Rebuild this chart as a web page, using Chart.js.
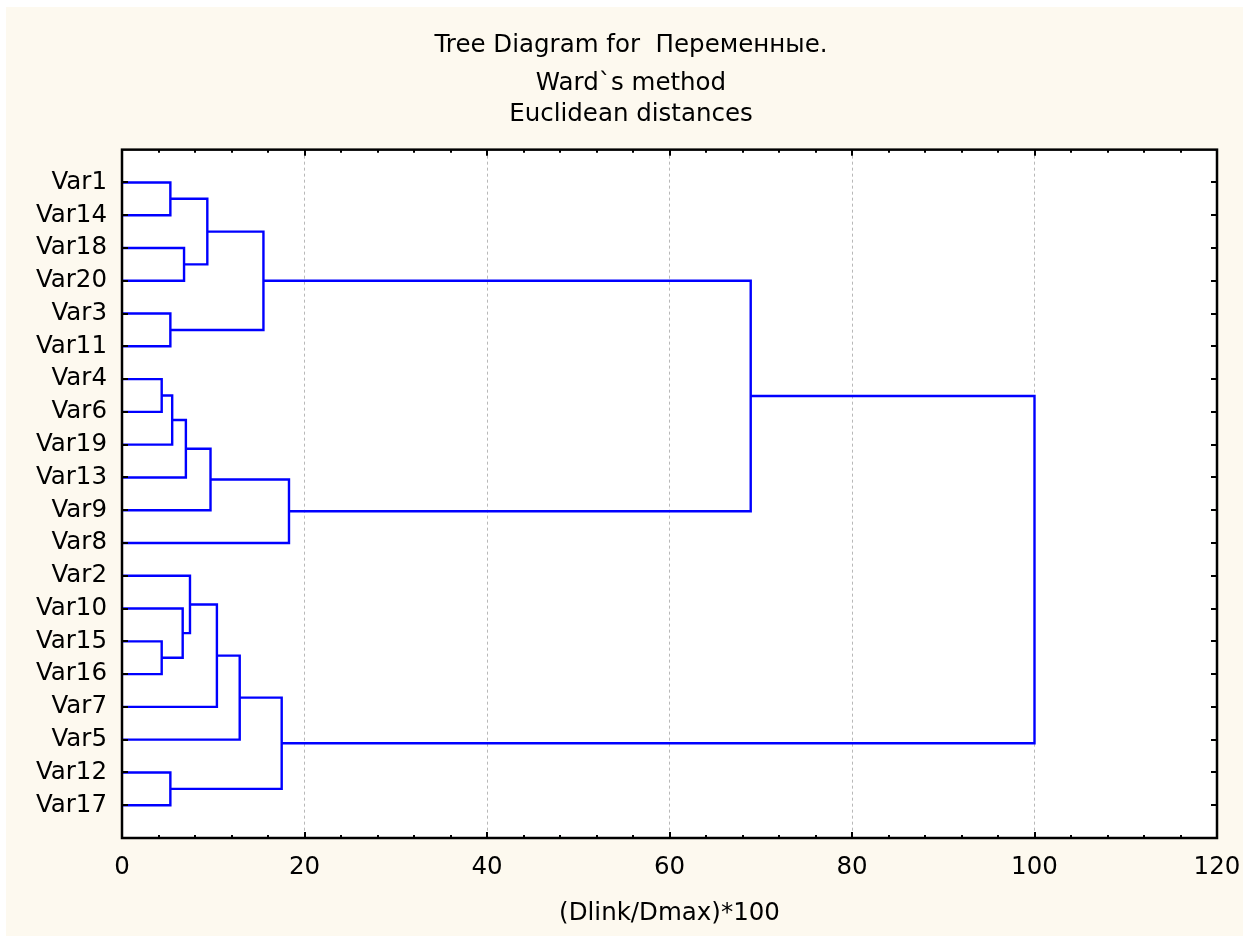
<!DOCTYPE html>
<html>
<head>
<meta charset="utf-8">
<script src="https://cdn.jsdelivr.net/npm/chart.js@4.4.1/dist/chart.umd.min.js"></script>
<style>
  html, body { margin: 0; padding: 0; background: #fff; overflow: hidden; }
  #wrap { position: absolute; left: 6px; top: 7px; width: 1237px; height: 929px; background: #fdf9ef; }
</style>
</head>
<body>
<div id="wrap"><canvas id="chart" width="1237" height="929"></canvas></div>
<script>
// leaves in dendrogram order, top to bottom
const leafLabels = ["Var1", "Var14", "Var18", "Var20", "Var3", "Var11", "Var4", "Var6", "Var19", "Var13",
  "Var9", "Var8", "Var2", "Var10", "Var15", "Var16", "Var7", "Var5", "Var12", "Var17"];

// linkage: node ids 0..19 are leaves, 20+ are merges in this order
const linkLeft   = [6, 14, 0, 4, 18, 20, 13, 2, 25, 12, 22, 28, 29, 32, 30, 33, 31, 34, 37];
const linkRight  = [7, 15, 1, 5, 19, 8, 21, 3, 9, 26, 27, 10, 16, 17, 23, 24, 11, 36, 35];
const linkHeight = [4.35, 4.35, 5.3, 5.3, 5.3, 5.5, 6.65, 6.8, 7.0, 7.45, 9.35, 9.7, 10.4, 12.9, 15.5, 17.5, 18.3, 68.9, 100];

const xTickValues = [0, 20, 40, 60, 80, 100, 120];

// node positions: leaves sit at 1..20, merges at mean of children
const nodeY = leafLabels.map((_, i) => i + 1);
const nodeH = leafLabels.map(() => 0);
const links = linkHeight.map((h, k) => {
  const a = linkLeft[k], b = linkRight[k];
  nodeY.push((nodeY[a] + nodeY[b]) / 2);
  nodeH.push(h);
  return [
    { x: nodeH[a], y: nodeY[a] },
    { x: h, y: nodeY[a] },
    { x: h, y: nodeY[b] },
    { x: nodeH[b], y: nodeY[b] }
  ];
});

// titles in the original sit a bit left of the canvas middle
const TITLE_CENTER = 625;

const frame = {
  id: "frame",
  afterLayout(chart) {
    chart.boxes.forEach(b => {
      if (b.position === "top" && b.options && b.options.text !== undefined) {
        b.left = 2 * TITLE_CENTER - b.right;
      }
    });
  },
  beforeDraw(chart) {
    const { ctx, chartArea: a } = chart;
    ctx.save();
    ctx.fillStyle = "#fff";
    ctx.fillRect(a.left, a.top, a.width, a.height);
    ctx.restore();
  },
  afterDraw(chart) {
    const { ctx, chartArea: a, scales: { x, y } } = chart;
    ctx.save();
    ctx.strokeStyle = "#000";
    ctx.lineWidth = 2.5;
    ctx.strokeRect(a.left, a.top, a.width, a.height);
    ctx.lineWidth = 2;
    ctx.beginPath();
    leafLabels.forEach((_, i) => {
      const py = Math.round(y.getPixelForValue(i + 1));
      ctx.moveTo(a.left, py); ctx.lineTo(a.left + 6, py);
      ctx.moveTo(a.right, py); ctx.lineTo(a.right - 6, py);
    });
    for (let v = 0; v <= 120; v += 4) {
      const px = Math.round(x.getPixelForValue(v));
      const len = v % 20 === 0 ? 6 : 3;
      ctx.moveTo(px, a.top); ctx.lineTo(px, a.top + len);
      ctx.moveTo(px, a.bottom); ctx.lineTo(px, a.bottom - len);
    }
    ctx.stroke();
    ctx.restore();
  }
};

const font = { family: "'DejaVu Sans', sans-serif", size: 24.5 };

new Chart(document.getElementById("chart"), {
  type: "scatter",
  data: {
    datasets: links.map(pts => ({
      data: pts,
      showLine: true,
      borderColor: "#0000ff",
      borderWidth: 2.4,
      pointRadius: 0,
      tension: 0,
      clip: false
    }))
  },
  options: {
    responsive: false,
    animation: false,
    events: [],
    layout: { padding: { top: 0, right: 26, bottom: 0, left: 0 } },
    plugins: {
      legend: { display: false },
      tooltip: { enabled: false },
      title: {
        display: true,
        text: "Tree Diagram for  Переменные.",
        color: "#000",
        font: { ...font, weight: "normal", lineHeight: 1.2 },
        padding: { top: 24, bottom: 3 }
      },
      subtitle: {
        display: true,
        text: ["Ward`s method", "Euclidean distances"],
        color: "#000",
        font: { ...font, weight: "normal", lineHeight: 1.25 },
        padding: { top: 5, bottom: 20 }
      }
    },
    scales: {
      x: {
        type: "linear",
        min: 0,
        max: 120,
        afterBuildTicks: s => { s.ticks = xTickValues.map(v => ({ value: v })); },
        afterFit: s => { s.height = 98; s.paddingRight = 0; s.paddingLeft = 0; },
        ticks: { color: "#000", font, padding: 15, autoSkip: false, maxRotation: 0 },
        grid: {
          drawTicks: false,
          lineWidth: 1,
          color: c => (c.tick && c.tick.value > 0 && c.tick.value < 120) ? "#b8b8b8" : "transparent"
        },
        border: { display: false, dash: [3, 3] },
        title: { display: true, text: "(Dlink/Dmax)*100", color: "#000", font, padding: { top: 0, bottom: 8 } }
      },
      y: {
        type: "linear",
        reverse: true,
        min: 0,
        max: 21,
        afterBuildTicks: s => { s.ticks = leafLabels.map((_, i) => ({ value: i + 1 })); },
        afterFit: s => { s.width = 116; s.paddingTop = 0; s.paddingBottom = 0; },
        ticks: { color: "#000", font, padding: 15, autoSkip: false, callback: v => leafLabels[v - 1] },
        grid: { display: true, drawTicks: false, color: "transparent" },
        border: { display: false }
      }
    }
  },
  plugins: [frame]
});
</script>
</body>
</html>
